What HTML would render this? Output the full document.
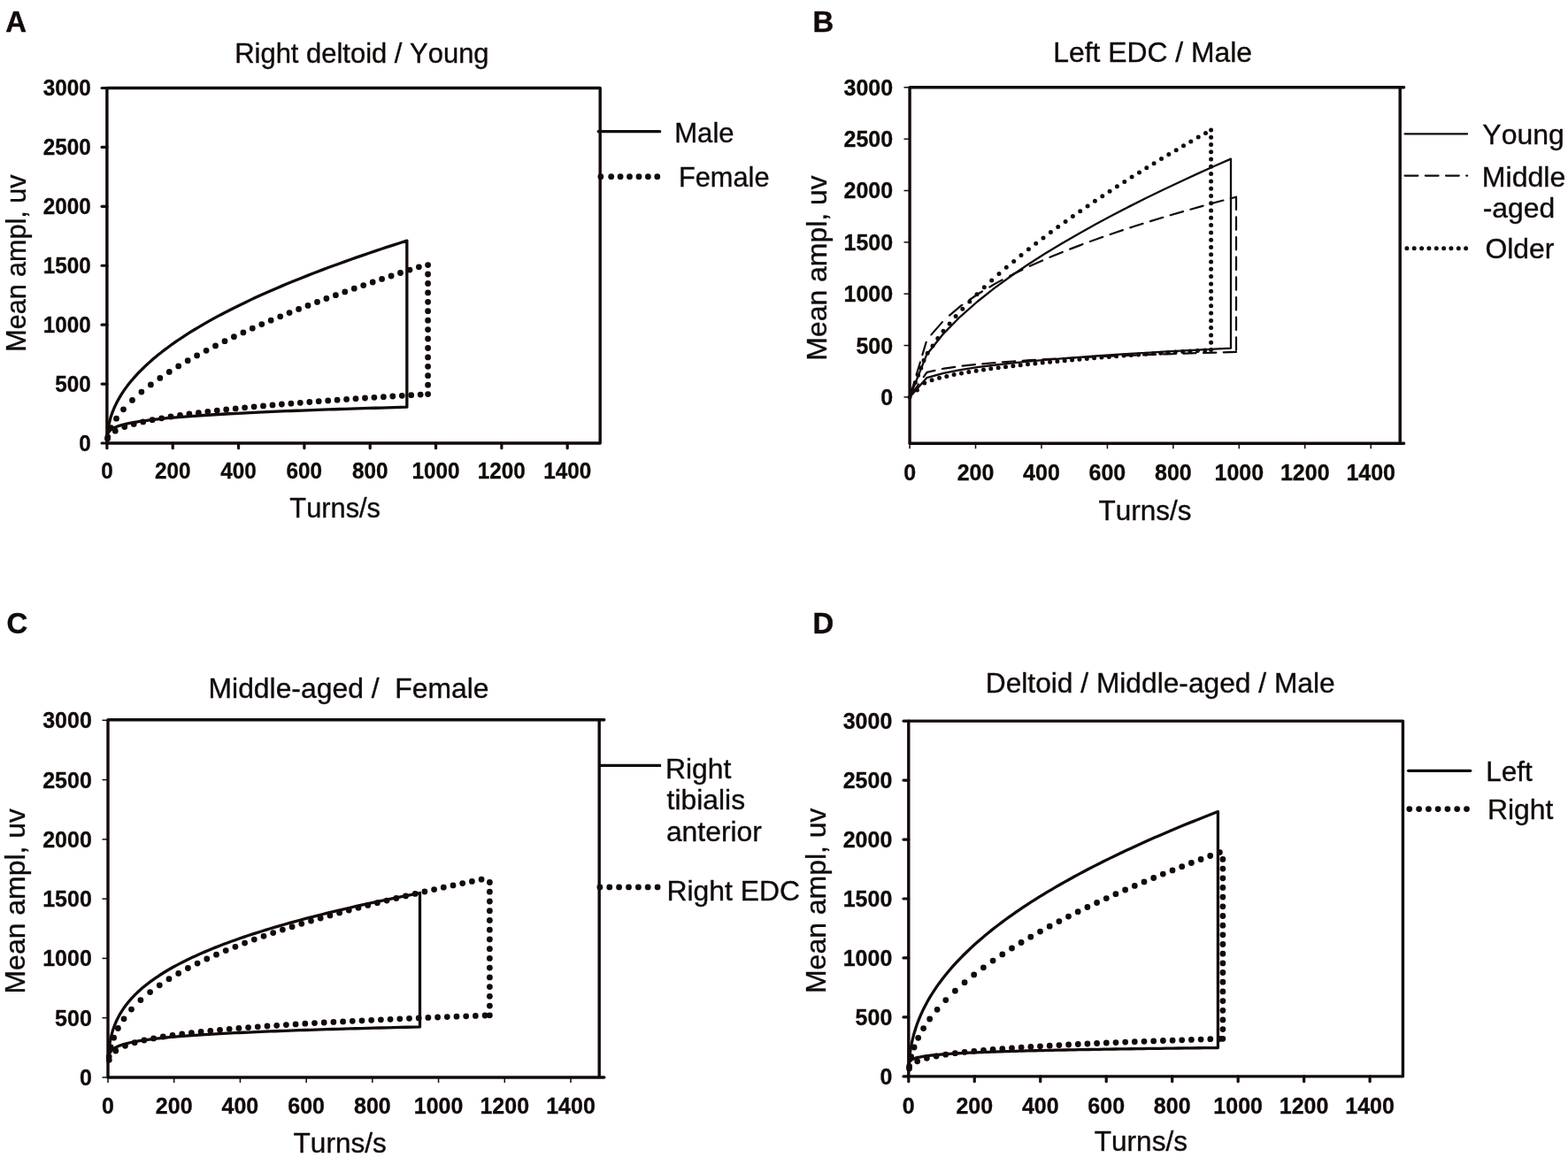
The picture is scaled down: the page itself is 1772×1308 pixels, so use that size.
<!DOCTYPE html>
<html lang="en">
<head>
<meta charset="utf-8">
<title>Mean amplitude versus turns per second</title>
<style>
html,body{margin:0;padding:0;background:#fff;}
body{width:1772px;height:1308px;overflow:hidden;}
svg{display:block;}
svg text{font-family:"Liberation Sans",sans-serif;font-kerning:none;fill:#100a09;}
</style>
</head>
<body>
<svg width="1772" height="1308" viewBox="0 0 1772 1308" stroke="#120b0a" fill="none">
<rect x="0" y="0" width="1772" height="1308" fill="#ffffff" stroke="none"/>
<g id="frames">
<g id="panel-A">
<path d="M120.90 99.50H678.20V501.00H120.90Z" stroke-width="3.4" stroke-linejoin="round"/>
<line x1="120.90" y1="501.00" x2="120.90" y2="506.70" stroke-width="3.2" stroke-linecap="round"/>
<line x1="195.23" y1="501.00" x2="195.23" y2="506.70" stroke-width="3.2" stroke-linecap="round"/>
<line x1="269.56" y1="501.00" x2="269.56" y2="506.70" stroke-width="3.2" stroke-linecap="round"/>
<line x1="343.88" y1="501.00" x2="343.88" y2="506.70" stroke-width="3.2" stroke-linecap="round"/>
<line x1="418.21" y1="501.00" x2="418.21" y2="506.70" stroke-width="3.2" stroke-linecap="round"/>
<line x1="492.54" y1="501.00" x2="492.54" y2="506.70" stroke-width="3.2" stroke-linecap="round"/>
<line x1="566.87" y1="501.00" x2="566.87" y2="506.70" stroke-width="3.2" stroke-linecap="round"/>
<line x1="641.20" y1="501.00" x2="641.20" y2="506.70" stroke-width="3.2" stroke-linecap="round"/>
<line x1="115.10" y1="501.00" x2="120.90" y2="501.00" stroke-width="3.2" stroke-linecap="round"/>
<line x1="115.10" y1="434.08" x2="120.90" y2="434.08" stroke-width="3.2" stroke-linecap="round"/>
<line x1="115.10" y1="367.17" x2="120.90" y2="367.17" stroke-width="3.2" stroke-linecap="round"/>
<line x1="115.10" y1="300.25" x2="120.90" y2="300.25" stroke-width="3.2" stroke-linecap="round"/>
<line x1="115.10" y1="233.34" x2="120.90" y2="233.34" stroke-width="3.2" stroke-linecap="round"/>
<line x1="115.10" y1="166.43" x2="120.90" y2="166.43" stroke-width="3.2" stroke-linecap="round"/>
<line x1="115.10" y1="99.51" x2="120.90" y2="99.51" stroke-width="3.2" stroke-linecap="round"/>
</g>
<g id="panel-B">
<path d="M1028.10 501.30V98.80M1582.20 98.80V501.30" stroke-width="3.4"/>
<path d="M1028.10 98.80H1586.60M1028.10 501.30H1586.60" stroke-width="3.4" stroke-linecap="round"/>
<line x1="1028.10" y1="501.30" x2="1028.10" y2="507.30" stroke-width="1.5"/>
<line x1="1102.54" y1="501.30" x2="1102.54" y2="507.30" stroke-width="1.5"/>
<line x1="1176.98" y1="501.30" x2="1176.98" y2="507.30" stroke-width="1.5"/>
<line x1="1251.43" y1="501.30" x2="1251.43" y2="507.30" stroke-width="1.5"/>
<line x1="1325.87" y1="501.30" x2="1325.87" y2="507.30" stroke-width="1.5"/>
<line x1="1400.31" y1="501.30" x2="1400.31" y2="507.30" stroke-width="1.5"/>
<line x1="1474.75" y1="501.30" x2="1474.75" y2="507.30" stroke-width="1.5"/>
<line x1="1549.19" y1="501.30" x2="1549.19" y2="507.30" stroke-width="1.5"/>
<line x1="1021.50" y1="448.90" x2="1028.10" y2="448.90" stroke-width="1.5"/>
<line x1="1021.50" y1="390.55" x2="1028.10" y2="390.55" stroke-width="1.5"/>
<line x1="1021.50" y1="332.20" x2="1028.10" y2="332.20" stroke-width="1.5"/>
<line x1="1021.50" y1="273.85" x2="1028.10" y2="273.85" stroke-width="1.5"/>
<line x1="1021.50" y1="215.50" x2="1028.10" y2="215.50" stroke-width="1.5"/>
<line x1="1021.50" y1="157.15" x2="1028.10" y2="157.15" stroke-width="1.5"/>
<line x1="1021.50" y1="98.80" x2="1028.10" y2="98.80" stroke-width="1.5"/>
</g>
<g id="panel-C">
<path d="M122.00 1218.00V813.80M677.20 813.80V1218.00" stroke-width="3.4"/>
<path d="M122.00 813.80H682.80M122.00 1218.00H682.80" stroke-width="3.4" stroke-linecap="round"/>
<line x1="122.00" y1="1218.00" x2="122.00" y2="1224.00" stroke-width="1.5"/>
<line x1="196.71" y1="1218.00" x2="196.71" y2="1224.00" stroke-width="1.5"/>
<line x1="271.43" y1="1218.00" x2="271.43" y2="1224.00" stroke-width="1.5"/>
<line x1="346.14" y1="1218.00" x2="346.14" y2="1224.00" stroke-width="1.5"/>
<line x1="420.86" y1="1218.00" x2="420.86" y2="1224.00" stroke-width="1.5"/>
<line x1="495.57" y1="1218.00" x2="495.57" y2="1224.00" stroke-width="1.5"/>
<line x1="570.28" y1="1218.00" x2="570.28" y2="1224.00" stroke-width="1.5"/>
<line x1="645.00" y1="1218.00" x2="645.00" y2="1224.00" stroke-width="1.5"/>
<line x1="115.50" y1="1218.00" x2="122.00" y2="1218.00" stroke-width="1.5"/>
<line x1="115.50" y1="1150.71" x2="122.00" y2="1150.71" stroke-width="1.5"/>
<line x1="115.50" y1="1083.43" x2="122.00" y2="1083.43" stroke-width="1.5"/>
<line x1="115.50" y1="1016.14" x2="122.00" y2="1016.14" stroke-width="1.5"/>
<line x1="115.50" y1="948.86" x2="122.00" y2="948.86" stroke-width="1.5"/>
<line x1="115.50" y1="881.58" x2="122.00" y2="881.58" stroke-width="1.5"/>
<line x1="115.50" y1="814.29" x2="122.00" y2="814.29" stroke-width="1.5"/>
</g>
<g id="panel-D">
<path d="M1026.80 815.10H1585.40V1216.90H1026.80Z" stroke-width="3.4" stroke-linejoin="round"/>
<line x1="1026.80" y1="1216.90" x2="1026.80" y2="1222.70" stroke-width="3.2" stroke-linecap="round"/>
<line x1="1101.27" y1="1216.90" x2="1101.27" y2="1222.70" stroke-width="3.2" stroke-linecap="round"/>
<line x1="1175.74" y1="1216.90" x2="1175.74" y2="1222.70" stroke-width="3.2" stroke-linecap="round"/>
<line x1="1250.22" y1="1216.90" x2="1250.22" y2="1222.70" stroke-width="3.2" stroke-linecap="round"/>
<line x1="1324.69" y1="1216.90" x2="1324.69" y2="1222.70" stroke-width="3.2" stroke-linecap="round"/>
<line x1="1399.16" y1="1216.90" x2="1399.16" y2="1222.70" stroke-width="3.2" stroke-linecap="round"/>
<line x1="1473.63" y1="1216.90" x2="1473.63" y2="1222.70" stroke-width="3.2" stroke-linecap="round"/>
<line x1="1548.10" y1="1216.90" x2="1548.10" y2="1222.70" stroke-width="3.2" stroke-linecap="round"/>
<line x1="1021.00" y1="1216.90" x2="1026.80" y2="1216.90" stroke-width="3.2" stroke-linecap="round"/>
<line x1="1021.00" y1="1149.94" x2="1026.80" y2="1149.94" stroke-width="3.2" stroke-linecap="round"/>
<line x1="1021.00" y1="1082.97" x2="1026.80" y2="1082.97" stroke-width="3.2" stroke-linecap="round"/>
<line x1="1021.00" y1="1016.01" x2="1026.80" y2="1016.01" stroke-width="3.2" stroke-linecap="round"/>
<line x1="1021.00" y1="949.04" x2="1026.80" y2="949.04" stroke-width="3.2" stroke-linecap="round"/>
<line x1="1021.00" y1="882.08" x2="1026.80" y2="882.08" stroke-width="3.2" stroke-linecap="round"/>
<line x1="1021.00" y1="815.11" x2="1026.80" y2="815.11" stroke-width="3.2" stroke-linecap="round"/>
</g>
<line x1="676.20" y1="148.70" x2="745.70" y2="148.70" stroke-width="3.2" stroke-linecap="round"/>
<path d="M678.9 199.7h0M690.7 199.7h0M701.1 199.7h0M711.5 199.7h0M722.0 199.7h0M732.4 199.7h0M742.8 199.7h0" stroke-width="6.8" stroke-linecap="round"/>
<line x1="1587.60" y1="151.30" x2="1658.10" y2="151.30" stroke-width="2.3" stroke-linecap="round"/>
<line x1="1587.60" y1="198.60" x2="1658.10" y2="198.60" stroke-width="2.2" stroke-linecap="round" stroke-dasharray="14.8 8.4"/>
<path d="M1589.9 280.7h0M1598.2 280.7h0M1606.6 280.7h0M1614.9 280.7h0M1623.3 280.7h0M1631.6 280.7h0M1639.9 280.7h0M1648.3 280.7h0M1656.6 280.7h0" stroke-width="5.0" stroke-linecap="round"/>
<line x1="677.00" y1="865.40" x2="747.10" y2="865.40" stroke-width="3.3"/>
<path d="M677.9 1002.9h0M688.8 1002.9h0M699.6 1002.9h0M710.5 1002.9h0M721.4 1002.9h0M732.2 1002.9h0M743.1 1002.9h0" stroke-width="6.8" stroke-linecap="round"/>
<line x1="1591.60" y1="871.30" x2="1661.70" y2="871.30" stroke-width="3.3" stroke-linecap="round"/>
<path d="M1592.8 914.6h0M1603.6 914.6h0M1614.4 914.6h0M1625.1 914.6h0M1635.9 914.6h0M1646.7 914.6h0M1657.5 914.6h0" stroke-width="6.8" stroke-linecap="round"/>
</g>
<g id="curves">
<path id="A_dot-upper" d="M121.8 494.1h0M125.4 483.7h0M131.5 473.2h0M139.5 462.8h0M149.5 452.4h0M159.9 443.1h0M170.4 434.9h0M180.8 427.4h0M191.3 420.4h0M201.7 413.9h0M212.2 407.7h0M222.6 401.9h0M233.1 396.3h0M243.5 390.9h0M254.0 385.7h0M264.4 380.7h0M274.9 375.9h0M285.3 371.2h0M295.8 366.6h0M306.2 362.2h0M316.7 357.8h0M327.1 353.6h0M337.6 349.4h0M348.0 345.4h0M358.5 341.4h0M368.9 337.5h0M379.4 333.7h0M389.8 329.9h0M400.3 326.2h0M410.7 322.6h0M421.2 319.0h0M431.6 315.4h0M442.1 312.0h0M452.5 308.5h0M463.0 305.1h0M473.4 301.8h0M483.6 299.6h0M483.6 310.0h0M483.6 320.5h0M483.6 330.9h0M483.6 341.3h0M483.6 351.7h0M483.6 362.2h0M483.6 372.6h0M483.6 383.0h0M483.6 393.5h0M483.6 403.9h0M483.6 414.3h0M483.6 424.7h0M483.6 435.2h0M483.6 445.6h0" stroke-width="6.8" stroke-linecap="round"/>
<path id="A_dot-lower" d="M121.5 496.0h0M130.3 487.2h0M140.8 482.6h0M151.2 479.4h0M161.7 476.9h0M172.1 474.7h0M182.6 472.8h0M193.0 471.0h0M203.5 469.4h0M213.9 468.0h0M224.4 466.6h0M234.8 465.3h0M245.3 464.1h0M255.7 463.0h0M266.2 461.9h0M276.6 460.8h0M287.1 459.8h0M297.5 458.9h0M308.0 457.9h0M318.4 457.0h0M328.9 456.2h0M339.3 455.3h0M349.8 454.5h0M360.2 453.7h0M370.7 452.9h0M381.1 452.2h0M391.6 451.4h0M402.0 450.7h0M412.5 450.0h0M422.9 449.3h0M433.4 448.7h0M443.8 448.0h0M454.3 447.3h0M464.7 446.7h0M475.2 446.1h0" stroke-width="6.8" stroke-linecap="round"/>
<path id="A_solid" d="M121.27 491.67L121.28 491.62L121.29 491.40L121.33 490.98L121.39 490.34L121.48 489.51L121.59 488.50L121.74 487.34L121.91 486.06L122.12 484.68L122.37 483.22L122.65 481.69L122.97 480.11L123.33 478.47L123.73 476.80L124.17 475.09L124.66 473.35L125.19 471.58L125.76 469.79L126.39 467.97L127.06 466.14L127.78 464.28L128.54 462.41L129.36 460.52L130.23 458.62L131.15 456.70L132.13 454.77L133.16 452.83L134.24 450.87L135.38 448.91L136.58 446.93L137.83 444.94L139.14 442.94L140.51 440.94L141.94 438.92L143.43 436.89L144.98 434.86L146.59 432.82L148.27 430.77L150.01 428.71L151.81 426.64L153.67 424.57L155.60 422.49L157.59 420.40L159.65 418.31L161.78 416.21L163.97 414.10L166.24 411.99L168.57 409.87L170.97 407.74L173.43 405.61L175.97 403.47L178.58 401.33L181.26 399.18L184.02 397.03L186.84 394.87L189.74 392.70L192.71 390.53L195.76 388.36L198.87 386.18L202.07 383.99L205.34 381.80L208.68 379.61L212.11 377.41L215.61 375.21L219.18 373.00L222.84 370.79L226.57 368.57L230.38 366.35L234.27 364.12L238.24 361.89L242.29 359.66L246.42 357.42L250.63 355.18L254.93 352.93L259.30 350.68L263.76 348.43L268.30 346.17L272.93 343.91L277.64 341.64L282.43 339.37L287.31 337.10L292.27 334.82L297.32 332.54L302.45 330.26L307.67 327.97L312.98 325.68L318.37 323.38L323.85 321.09L329.42 318.78L335.08 316.48L340.82 314.17L346.66 311.86L352.58 309.55L358.60 307.23L364.70 304.91L370.90 302.58L377.18 300.26L383.56 297.93L390.03 295.59L396.59 293.26L403.24 290.92L409.99 288.58L416.83 286.23L423.76 283.88L430.79 281.53L437.91 279.18L445.13 276.82L452.44 274.46L459.85 272.10L459.85 460.20L452.44 460.41L445.13 460.61L437.91 460.82L430.79 461.03L423.76 461.24L416.83 461.45L409.99 461.66L403.24 461.87L396.59 462.09L390.03 462.30L383.56 462.52L377.18 462.73L370.90 462.95L364.70 463.17L358.60 463.39L352.58 463.61L346.66 463.83L340.82 464.05L335.08 464.27L329.42 464.50L323.85 464.72L318.37 464.95L312.98 465.18L307.67 465.41L302.45 465.64L297.32 465.87L292.27 466.10L287.31 466.34L282.43 466.57L277.64 466.81L272.93 467.05L268.30 467.29L263.76 467.53L259.30 467.77L254.93 468.01L250.63 468.26L246.42 468.50L242.29 468.75L238.24 469.00L234.27 469.25L230.38 469.51L226.57 469.76L222.84 470.02L219.18 470.28L215.61 470.54L212.11 470.80L208.68 471.06L205.34 471.33L202.07 471.59L198.87 471.86L195.76 472.13L192.71 472.41L189.74 472.68L186.84 472.96L184.02 473.24L181.26 473.52L178.58 473.81L175.97 474.09L173.43 474.38L170.97 474.67L168.57 474.97L166.24 475.27L163.97 475.57L161.78 475.87L159.65 476.18L157.59 476.48L155.60 476.80L153.67 477.11L151.81 477.43L150.01 477.75L148.27 478.08L146.59 478.41L144.98 478.74L143.43 479.08L141.94 479.42L140.51 479.76L139.14 480.11L137.83 480.46L136.58 480.82L135.38 481.19L134.24 481.55L133.16 481.93L132.13 482.31L131.15 482.69L130.23 483.08L129.36 483.48L128.54 483.89L127.78 484.30L127.06 484.71L126.39 485.14L125.76 485.57L125.19 486.01L124.66 486.45L124.17 486.91L123.73 487.37L123.33 487.84L122.97 488.31L122.65 488.79L122.37 489.27L122.12 489.75L121.91 490.23L121.74 490.69L121.59 491.12L121.48 491.52L121.39 491.87L121.33 492.14L121.29 492.32L121.28 492.42L121.27 492.44" stroke-width="3.3" stroke-linejoin="round" stroke-linecap="round"/>
<path id="C_dot-upper" d="M123.2 1194.6h0M125.2 1183.9h0M128.6 1173.2h0M133.4 1162.5h0M140.0 1151.8h0M148.5 1141.1h0M158.9 1130.6h0M169.6 1121.6h0M180.3 1113.8h0M191.0 1106.7h0M201.7 1100.4h0M212.4 1094.5h0M223.1 1089.1h0M233.8 1084.0h0M244.5 1079.2h0M255.2 1074.6h0M265.9 1070.3h0M276.6 1066.1h0M287.3 1062.1h0M298.0 1058.3h0M308.7 1054.6h0M319.4 1051.1h0M330.1 1047.7h0M340.8 1044.3h0M351.5 1041.1h0M362.2 1038.0h0M372.9 1034.9h0M383.6 1031.9h0M394.3 1029.0h0M405.0 1026.2h0M415.7 1023.4h0M426.4 1020.7h0M437.1 1018.1h0M447.8 1015.5h0M458.5 1012.9h0M469.2 1010.4h0M479.9 1008.0h0M490.6 1005.6h0M501.3 1003.2h0M512.0 1000.9h0M522.7 998.6h0M533.4 996.4h0M544.1 994.2h0M553.4 997.5h0M553.4 1008.2h0M553.4 1019.0h0M553.4 1029.7h0M553.4 1040.4h0M553.4 1051.2h0M553.4 1061.9h0M553.4 1072.7h0M553.4 1083.4h0M553.4 1094.1h0M553.4 1104.9h0M553.4 1115.6h0M553.4 1126.3h0M553.4 1137.1h0M553.4 1147.8h0" stroke-width="6.8" stroke-linecap="round"/>
<path id="C_dot-lower" d="M123.3 1198.3h0M130.8 1188.0h0M141.5 1182.3h0M152.2 1178.7h0M162.9 1176.0h0M173.6 1173.9h0M184.3 1172.0h0M195.0 1170.4h0M205.7 1168.9h0M216.4 1167.6h0M227.1 1166.4h0M237.8 1165.3h0M248.5 1164.3h0M259.2 1163.3h0M269.9 1162.4h0M280.6 1161.6h0M291.3 1160.8h0M302.0 1160.0h0M312.7 1159.3h0M323.4 1158.6h0M334.1 1157.9h0M344.8 1157.2h0M355.5 1156.6h0M366.2 1156.0h0M376.9 1155.4h0M387.6 1154.9h0M398.3 1154.3h0M409.0 1153.8h0M419.7 1153.3h0M430.4 1152.8h0M441.1 1152.3h0M451.8 1151.8h0M462.5 1151.3h0M473.2 1150.9h0M483.9 1150.4h0M494.6 1150.0h0M505.3 1149.6h0M516.0 1149.2h0M526.7 1148.8h0M537.4 1148.4h0M548.1 1148.0h0" stroke-width="6.8" stroke-linecap="round"/>
<path id="C_solid" d="M122.37 1196.06L122.38 1195.97L122.40 1195.60L122.44 1194.90L122.50 1193.85L122.59 1192.51L122.71 1190.92L122.86 1189.16L123.04 1187.27L123.26 1185.29L123.51 1183.25L123.81 1181.16L124.14 1179.06L124.51 1176.94L124.93 1174.82L125.39 1172.70L125.90 1170.58L126.45 1168.47L127.05 1166.37L127.69 1164.28L128.39 1162.20L129.14 1160.13L129.94 1158.08L130.79 1156.04L131.69 1154.01L132.65 1152.00L133.67 1149.99L134.74 1148.00L135.86 1146.02L137.05 1144.05L138.29 1142.10L139.60 1140.15L140.96 1138.22L142.39 1136.30L143.87 1134.39L145.42 1132.48L147.03 1130.59L148.71 1128.71L150.45 1126.84L152.26 1124.97L154.13 1123.12L156.07 1121.28L158.07 1119.44L160.15 1117.61L162.29 1115.79L164.50 1113.98L166.78 1112.18L169.14 1110.38L171.56 1108.59L174.06 1106.81L176.62 1105.04L179.26 1103.27L181.98 1101.51L184.77 1099.76L187.63 1098.01L190.57 1096.27L193.58 1094.54L196.67 1092.81L199.84 1091.09L203.08 1089.38L206.40 1087.67L209.80 1085.96L213.28 1084.27L216.84 1082.58L220.48 1080.89L224.20 1079.21L228.00 1077.53L231.88 1075.86L235.85 1074.20L239.89 1072.54L244.02 1070.88L248.24 1069.23L252.53 1067.58L256.91 1065.94L261.38 1064.31L265.93 1062.68L270.57 1061.05L275.29 1059.43L280.10 1057.81L285.00 1056.19L289.98 1054.58L295.05 1052.98L300.21 1051.38L305.46 1049.78L310.80 1048.18L316.23 1046.59L321.75 1045.01L327.36 1043.43L333.06 1041.85L338.85 1040.27L344.73 1038.70L350.71 1037.14L356.78 1035.57L362.94 1034.01L369.19 1032.46L375.54 1030.90L381.99 1029.35L388.52 1027.81L395.16 1026.26L401.88 1024.72L408.71 1023.19L415.63 1021.65L422.65 1020.12L429.76 1018.60L436.97 1017.07L444.28 1015.55L451.69 1014.04L459.19 1012.52L466.80 1011.01L474.50 1009.50L474.50 1160.90L466.80 1161.08L459.19 1161.26L451.69 1161.44L444.28 1161.62L436.97 1161.80L429.76 1161.99L422.65 1162.17L415.63 1162.36L408.71 1162.55L401.88 1162.73L395.16 1162.93L388.52 1163.12L381.99 1163.31L375.54 1163.50L369.19 1163.70L362.94 1163.90L356.78 1164.09L350.71 1164.29L344.73 1164.49L338.85 1164.70L333.06 1164.90L327.36 1165.11L321.75 1165.31L316.23 1165.52L310.80 1165.73L305.46 1165.94L300.21 1166.16L295.05 1166.37L289.98 1166.59L285.00 1166.81L280.10 1167.03L275.29 1167.25L270.57 1167.48L265.93 1167.70L261.38 1167.93L256.91 1168.16L252.53 1168.39L248.24 1168.63L244.02 1168.86L239.89 1169.10L235.85 1169.34L231.88 1169.59L228.00 1169.83L224.20 1170.08L220.48 1170.33L216.84 1170.59L213.28 1170.84L209.80 1171.10L206.40 1171.36L203.08 1171.63L199.84 1171.89L196.67 1172.17L193.58 1172.44L190.57 1172.72L187.63 1173.00L184.77 1173.28L181.98 1173.57L179.26 1173.86L176.62 1174.15L174.06 1174.45L171.56 1174.75L169.14 1175.06L166.78 1175.37L164.50 1175.68L162.29 1176.00L160.15 1176.32L158.07 1176.65L156.07 1176.99L154.13 1177.32L152.26 1177.67L150.45 1178.02L148.71 1178.37L147.03 1178.74L145.42 1179.10L143.87 1179.48L142.39 1179.86L140.96 1180.25L139.60 1180.65L138.29 1181.05L137.05 1181.47L135.86 1181.89L134.74 1182.32L133.67 1182.76L132.65 1183.21L131.69 1183.67L130.79 1184.15L129.94 1184.63L129.14 1185.13L128.39 1185.64L127.69 1186.16L127.05 1186.70L126.45 1187.26L125.90 1187.83L125.39 1188.42L124.93 1189.02L124.51 1189.64L124.14 1190.28L123.81 1190.94L123.51 1191.61L123.26 1192.29L123.04 1192.97L122.86 1193.65L122.71 1194.30L122.59 1194.91L122.50 1195.44L122.44 1195.87L122.40 1196.16L122.38 1196.32L122.37 1196.35" stroke-width="3.3" stroke-linejoin="round" stroke-linecap="round"/>
<path id="D_dot-upper" d="M1027.6 1205.4h0M1029.7 1194.7h0M1033.1 1184.0h0M1037.7 1173.3h0M1043.6 1162.6h0M1050.7 1152.0h0M1059.1 1141.3h0M1068.8 1130.6h0M1079.4 1120.2h0M1090.1 1110.7h0M1100.7 1101.9h0M1111.4 1093.8h0M1122.1 1086.1h0M1132.8 1078.9h0M1143.5 1072.0h0M1154.1 1065.5h0M1164.8 1059.2h0M1175.5 1053.1h0M1186.2 1047.2h0M1196.9 1041.6h0M1207.5 1036.1h0M1218.2 1030.7h0M1228.9 1025.5h0M1239.6 1020.5h0M1250.3 1015.6h0M1260.9 1010.7h0M1271.6 1006.0h0M1282.3 1001.4h0M1293.0 996.9h0M1303.7 992.5h0M1314.3 988.1h0M1325.0 983.9h0M1335.7 979.7h0M1346.4 975.5h0M1357.1 971.5h0M1367.7 967.5h0M1378.4 963.6h0M1381.9 971.4h0M1381.9 982.1h0M1381.9 992.8h0M1381.9 1003.4h0M1381.9 1014.1h0M1381.9 1024.8h0M1381.9 1035.5h0M1381.9 1046.2h0M1381.9 1056.8h0M1381.9 1067.5h0M1381.9 1078.2h0M1381.9 1088.9h0M1381.9 1099.5h0M1381.9 1110.2h0M1381.9 1120.9h0M1381.9 1131.6h0M1381.9 1142.3h0M1381.9 1152.9h0M1381.9 1163.6h0M1381.9 1174.3h0" stroke-width="6.8" stroke-linecap="round"/>
<path id="D_dot-lower" d="M1027.5 1208.0h0M1036.7 1199.8h0M1047.4 1196.3h0M1058.1 1194.0h0M1068.7 1192.2h0M1079.4 1190.7h0M1090.1 1189.4h0M1100.8 1188.3h0M1111.5 1187.3h0M1122.1 1186.4h0M1132.8 1185.6h0M1143.5 1184.8h0M1154.2 1184.1h0M1164.9 1183.4h0M1175.5 1182.8h0M1186.2 1182.2h0M1196.9 1181.6h0M1207.6 1181.0h0M1218.3 1180.5h0M1228.9 1180.0h0M1239.6 1179.5h0M1250.3 1179.0h0M1261.0 1178.6h0M1271.7 1178.1h0M1282.3 1177.7h0M1293.0 1177.3h0M1303.7 1176.9h0M1314.4 1176.5h0M1325.1 1176.2h0M1335.7 1175.8h0M1346.4 1175.4h0M1357.1 1175.1h0M1367.8 1174.7h0M1378.5 1174.4h0" stroke-width="6.8" stroke-linecap="round"/>
<path id="D_solid" d="M1027.17 1203.28L1027.18 1203.21L1027.20 1202.90L1027.24 1202.29L1027.30 1201.38L1027.39 1200.18L1027.50 1198.74L1027.65 1197.10L1027.83 1195.30L1028.05 1193.37L1028.30 1191.33L1028.59 1189.21L1028.92 1187.01L1029.29 1184.76L1029.71 1182.46L1030.16 1180.11L1030.67 1177.73L1031.21 1175.32L1031.81 1172.88L1032.45 1170.41L1033.14 1167.93L1033.88 1165.42L1034.67 1162.89L1035.52 1160.35L1036.41 1157.79L1037.37 1155.22L1038.37 1152.64L1039.43 1150.04L1040.55 1147.43L1041.73 1144.81L1042.96 1142.17L1044.25 1139.53L1045.61 1136.88L1047.02 1134.22L1048.49 1131.55L1050.03 1128.87L1051.63 1126.19L1053.29 1123.50L1055.02 1120.80L1056.81 1118.09L1058.67 1115.37L1060.59 1112.65L1062.58 1109.92L1064.64 1107.19L1066.76 1104.45L1068.95 1101.70L1071.22 1098.95L1073.55 1096.19L1075.95 1093.43L1078.43 1090.66L1080.98 1087.88L1083.60 1085.10L1086.29 1082.32L1089.05 1079.53L1091.89 1076.74L1094.80 1073.94L1097.79 1071.13L1100.86 1068.33L1104.00 1065.51L1107.22 1062.70L1110.51 1059.88L1113.88 1057.05L1117.33 1054.22L1120.86 1051.39L1124.47 1048.55L1128.16 1045.71L1131.93 1042.86L1135.78 1040.01L1139.71 1037.16L1143.73 1034.30L1147.82 1031.44L1152.00 1028.58L1156.26 1025.71L1160.60 1022.84L1165.03 1019.97L1169.55 1017.09L1174.15 1014.21L1178.83 1011.33L1183.60 1008.44L1188.46 1005.55L1193.40 1002.65L1198.43 999.76L1203.55 996.86L1208.75 993.95L1214.05 991.05L1219.43 988.14L1224.91 985.23L1230.47 982.31L1236.12 979.39L1241.87 976.47L1247.70 973.55L1253.63 970.62L1259.65 967.69L1265.76 964.76L1271.96 961.83L1278.26 958.89L1284.65 955.95L1291.13 953.01L1297.71 950.06L1304.38 947.11L1311.15 944.16L1318.01 941.21L1324.97 938.25L1332.03 935.30L1339.18 932.34L1346.43 929.37L1353.77 926.41L1361.22 923.44L1368.76 920.47L1376.40 917.50L1376.40 1184.50L1368.76 1184.58L1361.22 1184.67L1353.77 1184.76L1346.43 1184.84L1339.18 1184.93L1332.03 1185.02L1324.97 1185.10L1318.01 1185.19L1311.15 1185.28L1304.38 1185.37L1297.71 1185.46L1291.13 1185.55L1284.65 1185.64L1278.26 1185.74L1271.96 1185.83L1265.76 1185.92L1259.65 1186.02L1253.63 1186.11L1247.70 1186.21L1241.87 1186.31L1236.12 1186.40L1230.47 1186.50L1224.91 1186.60L1219.43 1186.70L1214.05 1186.80L1208.75 1186.90L1203.55 1187.01L1198.43 1187.11L1193.40 1187.22L1188.46 1187.32L1183.60 1187.43L1178.83 1187.53L1174.15 1187.64L1169.55 1187.75L1165.03 1187.86L1160.60 1187.97L1156.26 1188.09L1152.00 1188.20L1147.82 1188.32L1143.73 1188.43L1139.71 1188.55L1135.78 1188.67L1131.93 1188.79L1128.16 1188.91L1124.47 1189.03L1120.86 1189.15L1117.33 1189.28L1113.88 1189.40L1110.51 1189.53L1107.22 1189.66L1104.00 1189.79L1100.86 1189.93L1097.79 1190.06L1094.80 1190.20L1091.89 1190.33L1089.05 1190.47L1086.29 1190.61L1083.60 1190.76L1080.98 1190.90L1078.43 1191.05L1075.95 1191.20L1073.55 1191.35L1071.22 1191.51L1068.95 1191.66L1066.76 1191.82L1064.64 1191.98L1062.58 1192.15L1060.59 1192.31L1058.67 1192.48L1056.81 1192.66L1055.02 1192.83L1053.29 1193.01L1051.63 1193.19L1050.03 1193.38L1048.49 1193.57L1047.02 1193.76L1045.61 1193.96L1044.25 1194.16L1042.96 1194.36L1041.73 1194.57L1040.55 1194.79L1039.43 1195.01L1038.37 1195.24L1037.37 1195.47L1036.41 1195.70L1035.52 1195.95L1034.67 1196.20L1033.88 1196.46L1033.14 1196.72L1032.45 1197.00L1031.81 1197.28L1031.21 1197.57L1030.67 1197.87L1030.16 1198.18L1029.71 1198.50L1029.29 1198.83L1028.92 1199.17L1028.59 1199.52L1028.30 1199.88L1028.05 1200.24L1027.83 1200.61L1027.65 1200.98L1027.50 1201.33L1027.39 1201.67L1027.30 1201.96L1027.24 1202.19L1027.20 1202.36L1027.18 1202.44L1027.17 1202.46" stroke-width="3.3" stroke-linejoin="round" stroke-linecap="round"/>
<path id="B_dot-upper" d="M1031.2 441.0h0M1034.4 432.6h0M1037.6 424.3h0M1040.8 415.9h0M1044.0 407.6h0M1048.2 399.3h0M1054.0 390.9h0M1059.8 382.6h0M1066.0 374.2h0M1073.1 365.9h0M1080.1 357.6h0M1087.8 349.2h0M1095.8 340.9h0M1104.0 332.7h0M1112.3 324.8h0M1120.7 317.0h0M1129.0 309.6h0M1137.3 302.3h0M1145.7 295.4h0M1154.0 288.4h0M1162.4 281.8h0M1170.7 275.2h0M1179.0 268.9h0M1187.4 262.6h0M1195.7 256.5h0M1204.1 250.4h0M1212.4 244.5h0M1220.7 238.7h0M1229.1 232.9h0M1237.4 227.3h0M1245.8 221.7h0M1254.1 216.2h0M1262.4 210.8h0M1270.8 205.4h0M1279.1 200.1h0M1287.5 194.9h0M1295.8 189.7h0M1304.1 184.7h0M1312.5 179.6h0M1320.8 174.6h0M1329.2 169.7h0M1337.5 164.8h0M1345.8 159.9h0M1354.2 155.1h0M1362.5 150.4h0M1368.6 146.9h0M1368.6 155.2h0M1368.6 163.5h0M1368.6 171.8h0M1368.6 180.0h0M1368.6 188.3h0M1368.6 196.6h0M1368.6 204.9h0M1368.6 213.2h0M1368.6 221.5h0M1368.6 229.8h0M1368.6 238.1h0M1368.6 246.3h0M1368.6 254.6h0M1368.6 262.9h0M1368.6 271.2h0M1368.6 279.5h0M1368.6 287.8h0M1368.6 296.1h0M1368.6 304.3h0M1368.6 312.6h0M1368.6 320.9h0M1368.6 329.2h0M1368.6 337.5h0M1368.6 345.8h0M1368.6 354.1h0M1368.6 362.4h0M1368.6 370.6h0M1368.6 378.9h0M1368.6 387.2h0M1368.6 395.5h0" stroke-width="5.0" stroke-linecap="round"/>
<path id="B_dot-lower" d="M1028.1 448.9h0M1036.4 441.0h0M1044.8 433.1h0M1053.1 429.8h0M1061.5 427.3h0M1069.8 425.4h0M1078.1 423.6h0M1086.5 422.0h0M1094.8 420.6h0M1103.2 419.2h0M1111.5 418.0h0M1119.8 416.8h0M1128.2 415.7h0M1136.5 414.7h0M1144.9 413.7h0M1153.2 412.7h0M1161.5 411.8h0M1169.9 410.9h0M1178.2 410.1h0M1186.6 409.2h0M1194.9 408.4h0M1203.2 407.7h0M1211.6 406.9h0M1219.9 406.2h0M1228.3 405.5h0M1236.6 404.8h0M1244.9 404.1h0M1253.3 403.4h0M1261.6 402.8h0M1270.0 402.1h0M1278.3 401.5h0M1286.6 400.9h0M1295.0 400.3h0M1303.3 399.7h0M1311.7 399.2h0M1320.0 398.6h0M1328.3 398.0h0M1336.7 397.5h0M1345.0 397.0h0M1353.4 396.4h0M1361.7 395.9h0" stroke-width="5.0" stroke-linecap="round"/>
<path id="B_dash" d="M1028.8 446.5L1033.1 432.2M1035.6 423.8L1039.9 409.5M1042.4 401.1L1046.7 386.8M1052.4 378.4L1064.9 364.1M1073.0 356.6L1086.3 345.4L1087.3 344.8M1095.7 339.0L1105.8 332.0L1110.0 329.5M1118.4 324.5L1125.2 320.4L1132.7 316.4M1141.1 312.0L1144.6 310.1L1155.4 304.9M1163.8 300.8L1164.0 300.7L1178.1 294.5M1186.5 290.8L1200.8 284.9M1209.2 281.6L1222.3 276.6L1223.5 276.1M1231.9 273.0L1241.7 269.5L1246.2 267.9M1254.6 265.0L1261.1 262.7L1268.9 260.1M1277.3 257.4L1280.5 256.3L1291.6 252.8M1300.0 250.1L1314.3 245.8M1322.7 243.3L1337.0 239.1M1345.4 236.7L1358.2 233.1L1359.7 232.7M1368.1 230.4L1377.6 227.8L1382.4 226.5M1390.8 224.3L1397.0 222.7M1397.0 222.7L1397.0 237.0M1397.0 245.4L1397.0 259.7M1397.0 268.0L1397.0 282.3M1397.0 290.7L1397.0 305.0M1397.0 313.4L1397.0 327.7M1397.0 336.1L1397.0 350.4M1397.0 358.7L1397.0 373.0M1397.0 381.4L1397.0 395.7M1028.2 448.8L1038.0 434.5M1043.8 426.1L1047.5 420.8L1056.5 418.9M1064.9 417.0L1066.9 416.6L1079.2 414.8M1087.6 413.7L1101.9 412.1M1110.3 411.3L1124.6 410.0M1133.0 409.4L1144.6 408.5L1147.3 408.3M1155.7 407.8L1164.0 407.2L1170.0 406.9M1178.4 406.4L1183.4 406.1L1192.7 405.6M1201.1 405.2L1202.8 405.1L1215.4 404.5M1223.8 404.0L1238.1 403.4M1246.5 403.0L1260.8 402.4M1269.2 402.1L1280.5 401.7L1283.5 401.6M1291.9 401.3L1299.9 401.0L1306.2 400.7M1314.6 400.4L1319.3 400.3L1328.9 400.0M1337.3 399.7L1338.8 399.6L1351.6 399.2M1360.0 399.0L1374.3 398.6M1382.7 398.3L1397.0 397.9" stroke-width="2.2" stroke-linecap="round" stroke-linejoin="round"/>
<path id="B_solid" d="M1028.10 448.90L1047.20 401.08L1066.30 377.07L1085.40 357.77L1104.50 341.00L1123.60 325.90L1142.70 312.01L1161.80 299.04L1180.90 286.82L1200.00 275.22L1219.10 264.14L1238.20 253.51L1257.30 243.27L1276.40 233.38L1295.50 223.79L1314.60 214.49L1333.70 205.44L1352.80 196.62L1371.90 188.01L1391.00 179.60L1391.00 393.70L1371.90 394.64L1352.80 395.61L1333.70 396.63L1314.60 397.69L1295.50 398.80L1276.40 399.96L1257.30 401.19L1238.20 402.49L1219.10 403.87L1200.00 405.35L1180.90 406.95L1161.80 408.69L1142.70 410.61L1123.60 412.76L1104.50 415.23L1085.40 418.17L1066.30 421.88L1047.20 427.21L1028.10 448.90" stroke-width="2.3" stroke-linejoin="round" stroke-linecap="round"/>
</g>
<g id="labels" stroke="none">
<text x="120.90" y="541.03" font-size="24.3" font-weight="bold" text-anchor="middle" transform="matrix(1 0 0 1.04 0 -21.306)" stroke="#100a09" stroke-width="0.3">0</text>
<text x="195.23" y="541.03" font-size="24.3" font-weight="bold" text-anchor="middle" transform="matrix(1 0 0 1.04 0 -21.306)" stroke="#100a09" stroke-width="0.3">200</text>
<text x="269.56" y="541.03" font-size="24.3" font-weight="bold" text-anchor="middle" transform="matrix(1 0 0 1.04 0 -21.306)" stroke="#100a09" stroke-width="0.3">400</text>
<text x="343.88" y="541.03" font-size="24.3" font-weight="bold" text-anchor="middle" transform="matrix(1 0 0 1.04 0 -21.306)" stroke="#100a09" stroke-width="0.3">600</text>
<text x="418.21" y="541.03" font-size="24.3" font-weight="bold" text-anchor="middle" transform="matrix(1 0 0 1.04 0 -21.306)" stroke="#100a09" stroke-width="0.3">800</text>
<text x="492.54" y="541.03" font-size="24.3" font-weight="bold" text-anchor="middle" transform="matrix(1 0 0 1.04 0 -21.306)" stroke="#100a09" stroke-width="0.3">1000</text>
<text x="566.87" y="541.03" font-size="24.3" font-weight="bold" text-anchor="middle" transform="matrix(1 0 0 1.04 0 -21.306)" stroke="#100a09" stroke-width="0.3">1200</text>
<text x="641.20" y="541.03" font-size="24.3" font-weight="bold" text-anchor="middle" transform="matrix(1 0 0 1.04 0 -21.306)" stroke="#100a09" stroke-width="0.3">1400</text>
<text x="102.80" y="509.38" font-size="24.3" font-weight="bold" text-anchor="end" transform="matrix(1 0 0 1.04 0 -20.040)" stroke="#100a09" stroke-width="0.3">0</text>
<text x="102.80" y="442.47" font-size="24.3" font-weight="bold" text-anchor="end" transform="matrix(1 0 0 1.04 0 -17.363)" stroke="#100a09" stroke-width="0.3">500</text>
<text x="102.80" y="375.55" font-size="24.3" font-weight="bold" text-anchor="end" transform="matrix(1 0 0 1.04 0 -14.687)" stroke="#100a09" stroke-width="0.3">1000</text>
<text x="102.80" y="308.64" font-size="24.3" font-weight="bold" text-anchor="end" transform="matrix(1 0 0 1.04 0 -12.010)" stroke="#100a09" stroke-width="0.3">1500</text>
<text x="102.80" y="241.72" font-size="24.3" font-weight="bold" text-anchor="end" transform="matrix(1 0 0 1.04 0 -9.334)" stroke="#100a09" stroke-width="0.3">2000</text>
<text x="102.80" y="174.81" font-size="24.3" font-weight="bold" text-anchor="end" transform="matrix(1 0 0 1.04 0 -6.657)" stroke="#100a09" stroke-width="0.3">2500</text>
<text x="102.80" y="107.89" font-size="24.3" font-weight="bold" text-anchor="end" transform="matrix(1 0 0 1.04 0 -3.980)" stroke="#100a09" stroke-width="0.3">3000</text>
<text x="1028.10" y="543.02" font-size="25" font-weight="bold" text-anchor="middle" transform="matrix(1 0 0 1.04 0 -21.376)" stroke="#100a09" stroke-width="0.3">0</text>
<text x="1102.54" y="543.02" font-size="25" font-weight="bold" text-anchor="middle" transform="matrix(1 0 0 1.04 0 -21.376)" stroke="#100a09" stroke-width="0.3">200</text>
<text x="1176.98" y="543.02" font-size="25" font-weight="bold" text-anchor="middle" transform="matrix(1 0 0 1.04 0 -21.376)" stroke="#100a09" stroke-width="0.3">400</text>
<text x="1251.43" y="543.02" font-size="25" font-weight="bold" text-anchor="middle" transform="matrix(1 0 0 1.04 0 -21.376)" stroke="#100a09" stroke-width="0.3">600</text>
<text x="1325.87" y="543.02" font-size="25" font-weight="bold" text-anchor="middle" transform="matrix(1 0 0 1.04 0 -21.376)" stroke="#100a09" stroke-width="0.3">800</text>
<text x="1400.31" y="543.02" font-size="25" font-weight="bold" text-anchor="middle" transform="matrix(1 0 0 1.04 0 -21.376)" stroke="#100a09" stroke-width="0.3">1000</text>
<text x="1474.75" y="543.02" font-size="25" font-weight="bold" text-anchor="middle" transform="matrix(1 0 0 1.04 0 -21.376)" stroke="#100a09" stroke-width="0.3">1200</text>
<text x="1549.19" y="543.02" font-size="25" font-weight="bold" text-anchor="middle" transform="matrix(1 0 0 1.04 0 -21.376)" stroke="#100a09" stroke-width="0.3">1400</text>
<text x="1009.10" y="457.52" font-size="25" font-weight="bold" text-anchor="end" transform="matrix(1 0 0 1.04 0 -17.956)" stroke="#100a09" stroke-width="0.3">0</text>
<text x="1009.10" y="399.17" font-size="25" font-weight="bold" text-anchor="end" transform="matrix(1 0 0 1.04 0 -15.622)" stroke="#100a09" stroke-width="0.3">500</text>
<text x="1009.10" y="340.82" font-size="25" font-weight="bold" text-anchor="end" transform="matrix(1 0 0 1.04 0 -13.288)" stroke="#100a09" stroke-width="0.3">1000</text>
<text x="1009.10" y="282.47" font-size="25" font-weight="bold" text-anchor="end" transform="matrix(1 0 0 1.04 0 -10.954)" stroke="#100a09" stroke-width="0.3">1500</text>
<text x="1009.10" y="224.12" font-size="25" font-weight="bold" text-anchor="end" transform="matrix(1 0 0 1.04 0 -8.620)" stroke="#100a09" stroke-width="0.3">2000</text>
<text x="1009.10" y="165.77" font-size="25" font-weight="bold" text-anchor="end" transform="matrix(1 0 0 1.04 0 -6.286)" stroke="#100a09" stroke-width="0.3">2500</text>
<text x="1009.10" y="107.42" font-size="25" font-weight="bold" text-anchor="end" transform="matrix(1 0 0 1.04 0 -3.952)" stroke="#100a09" stroke-width="0.3">3000</text>
<text x="122.00" y="1259.08" font-size="25" font-weight="bold" text-anchor="middle" transform="matrix(1 0 0 1.04 0 -50.018)" stroke="#100a09" stroke-width="0.3">0</text>
<text x="196.71" y="1259.08" font-size="25" font-weight="bold" text-anchor="middle" transform="matrix(1 0 0 1.04 0 -50.018)" stroke="#100a09" stroke-width="0.3">200</text>
<text x="271.43" y="1259.08" font-size="25" font-weight="bold" text-anchor="middle" transform="matrix(1 0 0 1.04 0 -50.018)" stroke="#100a09" stroke-width="0.3">400</text>
<text x="346.14" y="1259.08" font-size="25" font-weight="bold" text-anchor="middle" transform="matrix(1 0 0 1.04 0 -50.018)" stroke="#100a09" stroke-width="0.3">600</text>
<text x="420.86" y="1259.08" font-size="25" font-weight="bold" text-anchor="middle" transform="matrix(1 0 0 1.04 0 -50.018)" stroke="#100a09" stroke-width="0.3">800</text>
<text x="495.57" y="1259.08" font-size="25" font-weight="bold" text-anchor="middle" transform="matrix(1 0 0 1.04 0 -50.018)" stroke="#100a09" stroke-width="0.3">1000</text>
<text x="570.28" y="1259.08" font-size="25" font-weight="bold" text-anchor="middle" transform="matrix(1 0 0 1.04 0 -50.018)" stroke="#100a09" stroke-width="0.3">1200</text>
<text x="645.00" y="1259.08" font-size="25" font-weight="bold" text-anchor="middle" transform="matrix(1 0 0 1.04 0 -50.018)" stroke="#100a09" stroke-width="0.3">1400</text>
<text x="103.80" y="1226.62" font-size="25" font-weight="bold" text-anchor="end" transform="matrix(1 0 0 1.04 0 -48.720)" stroke="#100a09" stroke-width="0.3">0</text>
<text x="103.80" y="1159.34" font-size="25" font-weight="bold" text-anchor="end" transform="matrix(1 0 0 1.04 0 -46.029)" stroke="#100a09" stroke-width="0.3">500</text>
<text x="103.80" y="1092.06" font-size="25" font-weight="bold" text-anchor="end" transform="matrix(1 0 0 1.04 0 -43.337)" stroke="#100a09" stroke-width="0.3">1000</text>
<text x="103.80" y="1024.77" font-size="25" font-weight="bold" text-anchor="end" transform="matrix(1 0 0 1.04 0 -40.646)" stroke="#100a09" stroke-width="0.3">1500</text>
<text x="103.80" y="957.49" font-size="25" font-weight="bold" text-anchor="end" transform="matrix(1 0 0 1.04 0 -37.954)" stroke="#100a09" stroke-width="0.3">2000</text>
<text x="103.80" y="890.20" font-size="25" font-weight="bold" text-anchor="end" transform="matrix(1 0 0 1.04 0 -35.263)" stroke="#100a09" stroke-width="0.3">2500</text>
<text x="103.80" y="822.91" font-size="25" font-weight="bold" text-anchor="end" transform="matrix(1 0 0 1.04 0 -32.572)" stroke="#100a09" stroke-width="0.3">3000</text>
<text x="1026.80" y="1258.38" font-size="25" font-weight="bold" text-anchor="middle" transform="matrix(1 0 0 1.04 0 -49.990)" stroke="#100a09" stroke-width="0.3">0</text>
<text x="1101.27" y="1258.38" font-size="25" font-weight="bold" text-anchor="middle" transform="matrix(1 0 0 1.04 0 -49.990)" stroke="#100a09" stroke-width="0.3">200</text>
<text x="1175.74" y="1258.38" font-size="25" font-weight="bold" text-anchor="middle" transform="matrix(1 0 0 1.04 0 -49.990)" stroke="#100a09" stroke-width="0.3">400</text>
<text x="1250.22" y="1258.38" font-size="25" font-weight="bold" text-anchor="middle" transform="matrix(1 0 0 1.04 0 -49.990)" stroke="#100a09" stroke-width="0.3">600</text>
<text x="1324.69" y="1258.38" font-size="25" font-weight="bold" text-anchor="middle" transform="matrix(1 0 0 1.04 0 -49.990)" stroke="#100a09" stroke-width="0.3">800</text>
<text x="1399.16" y="1258.38" font-size="25" font-weight="bold" text-anchor="middle" transform="matrix(1 0 0 1.04 0 -49.990)" stroke="#100a09" stroke-width="0.3">1000</text>
<text x="1473.63" y="1258.38" font-size="25" font-weight="bold" text-anchor="middle" transform="matrix(1 0 0 1.04 0 -49.990)" stroke="#100a09" stroke-width="0.3">1200</text>
<text x="1548.10" y="1258.38" font-size="25" font-weight="bold" text-anchor="middle" transform="matrix(1 0 0 1.04 0 -49.990)" stroke="#100a09" stroke-width="0.3">1400</text>
<text x="1008.30" y="1225.53" font-size="25" font-weight="bold" text-anchor="end" transform="matrix(1 0 0 1.04 0 -48.676)" stroke="#100a09" stroke-width="0.3">0</text>
<text x="1008.30" y="1158.56" font-size="25" font-weight="bold" text-anchor="end" transform="matrix(1 0 0 1.04 0 -45.997)" stroke="#100a09" stroke-width="0.3">500</text>
<text x="1008.30" y="1091.60" font-size="25" font-weight="bold" text-anchor="end" transform="matrix(1 0 0 1.04 0 -43.319)" stroke="#100a09" stroke-width="0.3">1000</text>
<text x="1008.30" y="1024.63" font-size="25" font-weight="bold" text-anchor="end" transform="matrix(1 0 0 1.04 0 -40.640)" stroke="#100a09" stroke-width="0.3">1500</text>
<text x="1008.30" y="957.67" font-size="25" font-weight="bold" text-anchor="end" transform="matrix(1 0 0 1.04 0 -37.962)" stroke="#100a09" stroke-width="0.3">2000</text>
<text x="1008.30" y="890.70" font-size="25" font-weight="bold" text-anchor="end" transform="matrix(1 0 0 1.04 0 -35.283)" stroke="#100a09" stroke-width="0.3">2500</text>
<text x="1008.30" y="823.74" font-size="25" font-weight="bold" text-anchor="end" transform="matrix(1 0 0 1.04 0 -32.604)" stroke="#100a09" stroke-width="0.3">3000</text>
<text x="6.31" y="35.75" font-size="32.89" font-weight="bold" stroke="#100a09" stroke-width="0.4">A</text>
<text x="918.60" y="35.60" font-size="32.84" font-weight="bold" stroke="#100a09" stroke-width="0.4">B</text>
<text x="7.38" y="716.10" font-size="32.88" font-weight="bold" stroke="#100a09" stroke-width="0.4">C</text>
<text x="918.60" y="716.00" font-size="32.84" font-weight="bold" stroke="#100a09" stroke-width="0.4">D</text>
<text x="265.20" y="70.60" font-size="30.96" stroke="#100a09" stroke-width="0.35">Right deltoid / Young</text>
<text x="1190.23" y="70.10" font-size="31.85" stroke="#100a09" stroke-width="0.35">Left EDC / Male</text>
<text x="235.53" y="789.00" font-size="31.86" stroke="#100a09" stroke-width="0.35" xml:space="preserve">Middle-aged /  Female</text>
<text x="1113.74" y="782.90" font-size="31.72" stroke="#100a09" stroke-width="0.35">Deltoid / Middle-aged / Male</text>
<text x="327.36" y="584.80" font-size="30.79" stroke="#100a09" stroke-width="0.35">Turns/s</text>
<text x="1241.55" y="588.30" font-size="31.49" stroke="#100a09" stroke-width="0.35">Turns/s</text>
<text x="331.54" y="1303.00" font-size="31.59" stroke="#100a09" stroke-width="0.35">Turns/s</text>
<text x="1236.74" y="1301.30" font-size="31.59" stroke="#100a09" stroke-width="0.35">Turns/s</text>
<text x="29.40" y="397.77" font-size="30.55" transform="rotate(-90 29.40 397.77)" stroke="#100a09" stroke-width="0.35">Mean ampl, uv</text>
<text x="933.60" y="407.68" font-size="31.95" transform="rotate(-90 933.60 407.68)" stroke="#100a09" stroke-width="0.35">Mean ampl, uv</text>
<text x="28.30" y="1123.48" font-size="31.95" transform="rotate(-90 28.30 1123.48)" stroke="#100a09" stroke-width="0.35">Mean ampl, uv</text>
<text x="933.10" y="1122.98" font-size="31.95" transform="rotate(-90 933.10 1122.98)" stroke="#100a09" stroke-width="0.35">Mean ampl, uv</text>
<text x="762.18" y="160.50" font-size="31.13" stroke="#100a09" stroke-width="0.35">Male</text>
<text x="766.91" y="210.70" font-size="30.79" stroke="#100a09" stroke-width="0.35">Female</text>
<text x="1675.32" y="163.10" font-size="31.98" stroke="#100a09" stroke-width="0.35">Young</text>
<text x="1674.81" y="210.80" font-size="32.08" stroke="#100a09" stroke-width="0.35">Middle</text>
<text x="1675.70" y="245.50" font-size="31.86" stroke="#100a09" stroke-width="0.35">-aged</text>
<text x="1678.48" y="292.30" font-size="31.85" stroke="#100a09" stroke-width="0.35">Older</text>
<text x="752.03" y="880.40" font-size="31.84" stroke="#100a09" stroke-width="0.35">Right</text>
<text x="753.54" y="915.40" font-size="31.87" stroke="#100a09" stroke-width="0.35">tibialis</text>
<text x="752.90" y="951.10" font-size="31.89" stroke="#100a09" stroke-width="0.35">anterior</text>
<text x="753.42" y="1017.60" font-size="31.92" stroke="#100a09" stroke-width="0.35">Right EDC</text>
<text x="1679.26" y="883.00" font-size="31.48" stroke="#100a09" stroke-width="0.35">Left</text>
<text x="1680.93" y="926.30" font-size="31.84" stroke="#100a09" stroke-width="0.35">Right</text>
</g>
</svg>
</body>
</html>
